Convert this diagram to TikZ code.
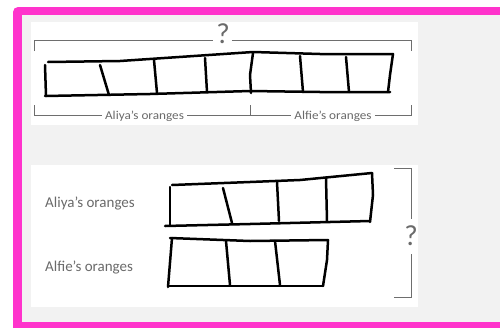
\documentclass[tikz,border=0pt]{standalone}
\usepackage{fontspec}
\setmainfont{Carlito}
\definecolor{framepink}{HTML}{FF33CC}
\definecolor{bggray}{HTML}{F2F2F2}
\definecolor{txtgray}{HTML}{6A6A6A}
\definecolor{brgray}{HTML}{6E6E6E}
\begin{document}
\begin{tikzpicture}[x=1pt,y=-1pt,
  bar/.style={line width=2.5pt, line join=round, line cap=round, black},
  brk/.style={line width=0.9pt, brgray},
  lbl/.style={text=txtgray, inner xsep=3pt, inner ysep=0pt},
  lblb/.style={text=txtgray, inner sep=0pt, font=\fontsize{15}{15}\selectfont},
  qmark/.style={text=txtgray, inner sep=0pt, font=\fontsize{29}{29}\selectfont},
]
\useasboundingbox (0,0) rectangle (500,327);
\begin{scope}
\clip (0,0) rectangle (500,327);
\fill[white] (0,0) rectangle (500,327);
\fill[framepink, rounded corners=5pt] (13,7) rectangle (530,345);
\fill[bggray] (22,15) rectangle (525,322);
\end{scope}
% panels
\fill[white] (31,22) rectangle (418,125);
\fill[white] (31,165) rectangle (418,307);

% ---- top panel: bar of 7 parts
\draw[bar] (48,62) -- (120,61) -- (253,52) -- (320,54) -- (393,54);
\draw[bar] (45,96) -- (150,94) -- (250,91) -- (320,92) -- (390,92);
\draw[bar] (45,65) -- (46,96);
\draw[bar] (100,65) -- (109,95);
\draw[bar] (154,60) -- (157,93);
\draw[bar] (205,58) -- (207,92);
\draw[bar] (253,53) -- (250,75) -- (251,93);
\draw[bar] (300,56) -- (303,92);
\draw[bar] (346,57) -- (349,92);
\draw[bar] (393,54) -- (390,75) -- (388,92);

% top bracket
\coordinate (tl) at (34,40);
\coordinate (tr) at (411,40);
\node[qmark] (q1) at (223,34) {?};
\draw[brk] (34,51) -- (tl) -- ([xshift=-3pt]q1.west |- tl);
\draw[brk] ([xshift=2pt]q1.east |- tl) -- (tr) -- (411,51);

% bottom brackets of top panel
\node[lbl, anchor=base, font=\fontsize{12}{12}\selectfont] (aliya1) at (144.5,119.5) {\scalebox{1.1}[1]{Aliya’s oranges}};
\node[lbl, anchor=base, font=\fontsize{12}{12}\selectfont] (alfie1) at (333,119.5) {\scalebox{1.1}[1]{Alfie’s oranges}};
\coordinate (bl) at (34,115);
\coordinate (bm) at (250,115);
\coordinate (br) at (411,115);
\draw[brk] (34,105) -- (bl) -- (aliya1.west |- bl);
\draw[brk] (aliya1.east |- bl) -- (bm);
\draw[brk] (250,105) -- (bm) -- (alfie1.west |- bm);
\draw[brk] (alfie1.east |- br) -- (br) -- (411,105);

% ---- bottom panel
\node[lblb, anchor=base west] (aliya2) at (45,207) {Aliya’s oranges};
\node[lblb, anchor=base west] (alfie2) at (45,271.5) {Alfie’s oranges};

% Aliya bar
\draw[bar] (172,185) -- (250,182) -- (300,180) -- (372,173);
\draw[bar] (165,226) -- (250,224) -- (370,221);
\draw[bar] (170,187) -- (170,225);
\draw[bar] (223,188) -- (232,223);
\draw[bar] (277,182) -- (279,221);
\draw[bar] (326,178) -- (327,221);
\draw[bar] (372,173) -- (373,195) -- (370,222);

% Alfie bar
\draw[bar] (170,238) -- (250,241) -- (328,240);
\draw[bar] (168,286) -- (250,286) -- (323,286);
\draw[bar] (172,238) -- (168,287);
\draw[bar] (226,241) -- (230,285);
\draw[bar] (275,241) -- (280,285);
\draw[bar] (328,240) -- (327,260) -- (323,286);

% right bracket
\node[qmark] (q2) at (411,236) {?};
\draw[brk] (394,168) -- (411,168) -- ([yshift=7pt]q2.north);
\draw[brk] ([yshift=-8pt]q2.south) -- (411,297) -- (394,297);
\end{tikzpicture}
\end{document}
